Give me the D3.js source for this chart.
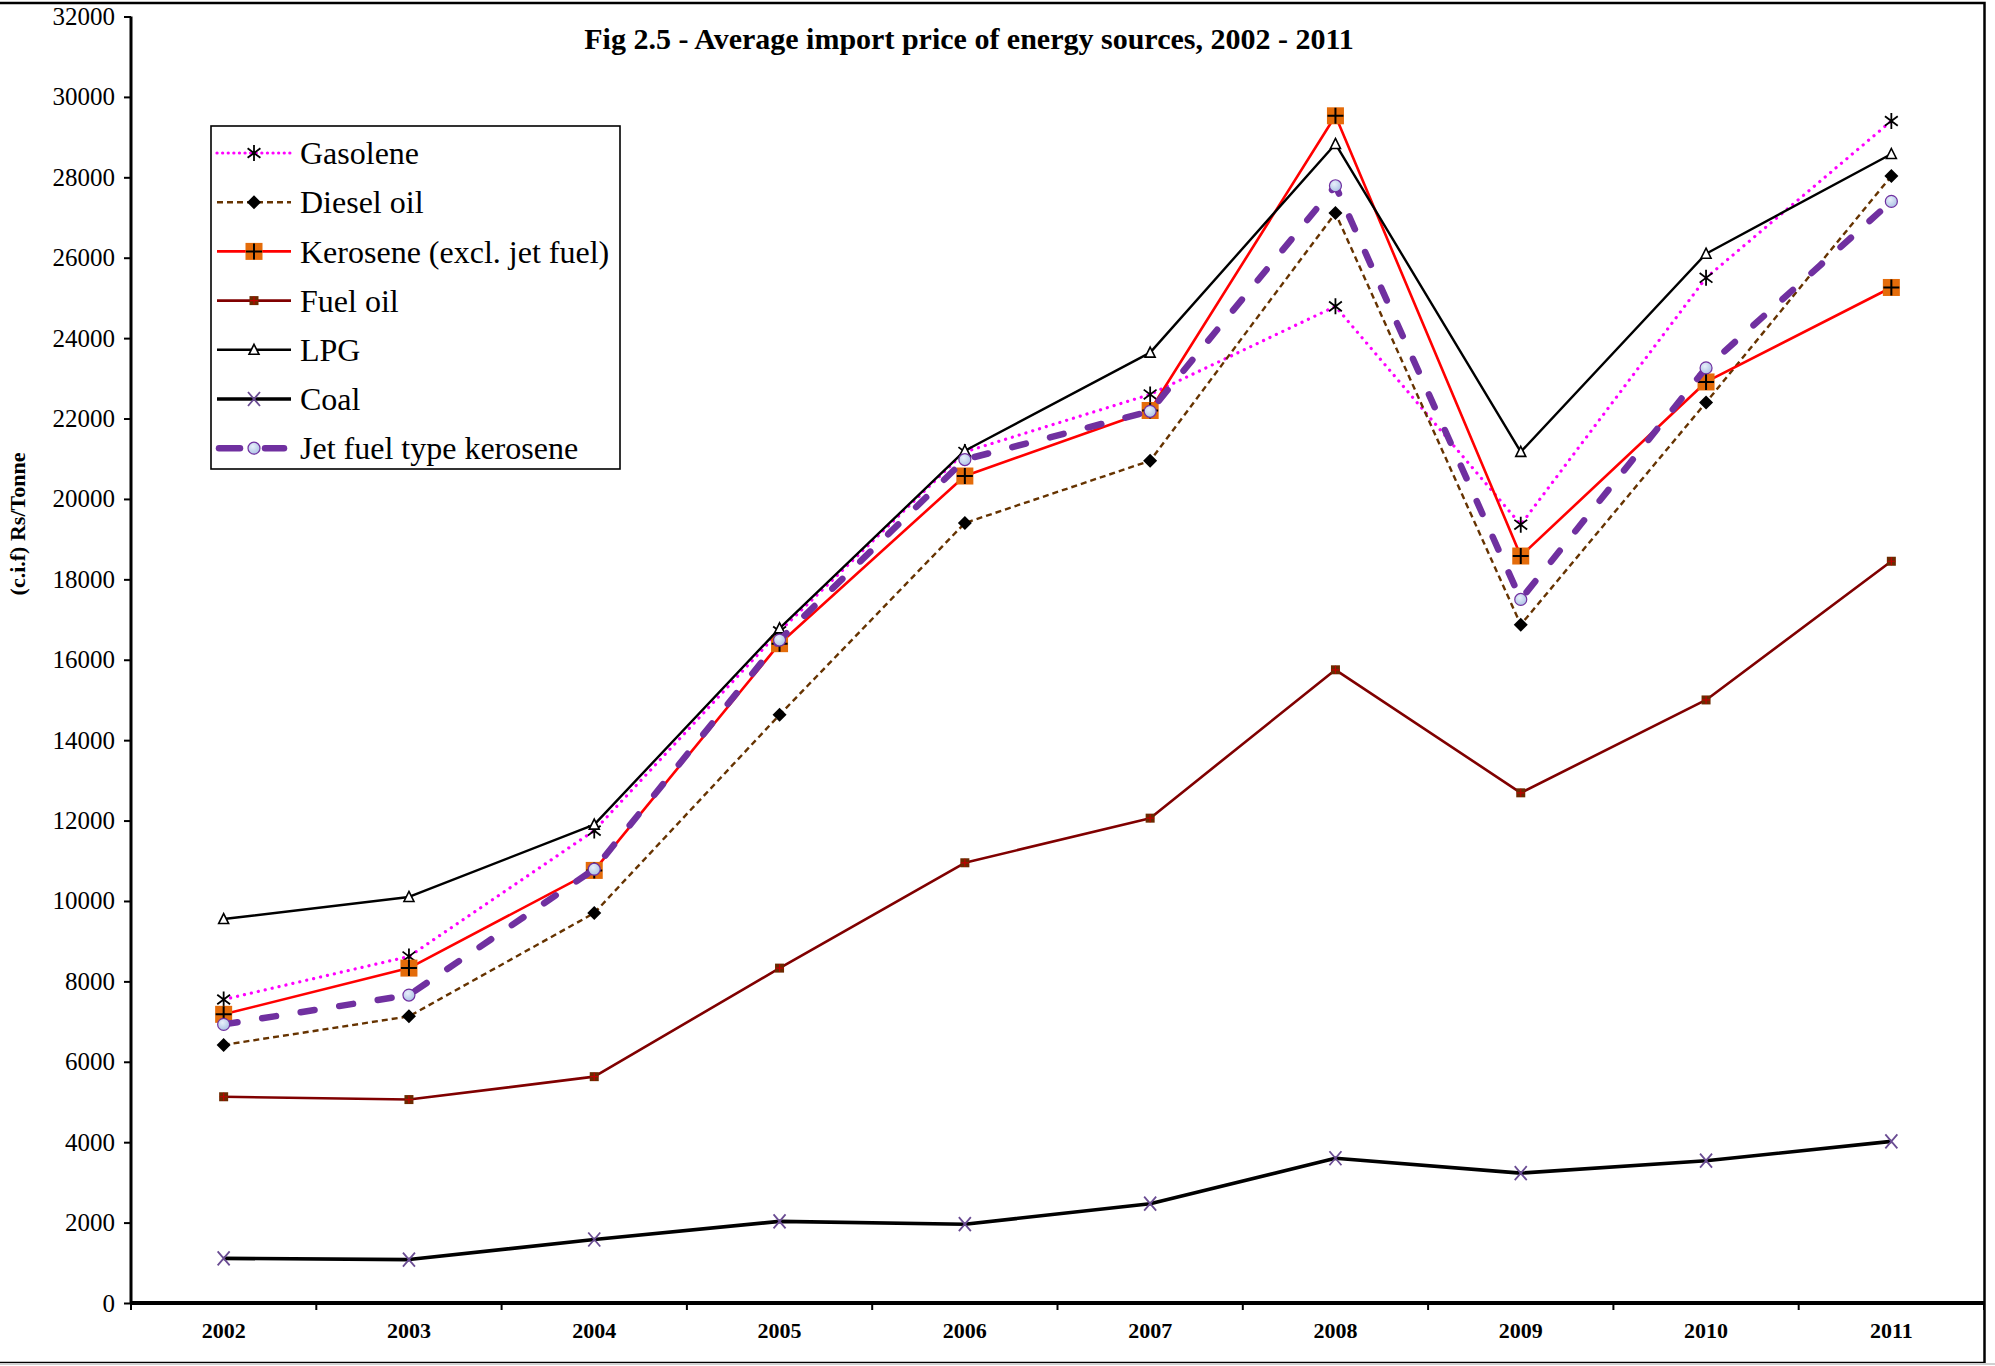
<!DOCTYPE html>
<html>
<head>
<meta charset="utf-8">
<script src="https://cdn.jsdelivr.net/npm/d3@7"></script>
<style>
  html, body { margin: 0; padding: 0; background: #fff; }
  svg { display: block; }
  text { font-family: "Liberation Serif", "Times New Roman", serif; }
</style>
</head>
<body>
<svg id="chart" width="1995" height="1366"></svg>
<script>
// ---- data ----
const years = ["2002","2003","2004","2005","2006","2007","2008","2009","2010","2011"];
const yTicks = [0,2000,4000,6000,8000,10000,12000,14000,16000,18000,20000,22000,24000,26000,28000,30000,32000];

const gasolene   = [7550, 8620, 11750, 16710, 21170, 22600, 24790, 19360, 25500, 29400];
const dieselOil  = [6420, 7130, 9700, 14630, 19400, 20950, 27110, 16870, 22400, 28030];
const kerosene   = [7180, 8330, 10760, 16400, 20570, 22200, 29530, 18580, 22910, 25260];
const fuelOil    = [5130, 5060, 5630, 8330, 10950, 12060, 15750, 12690, 15000, 18450];
const lpg        = [9550, 10100, 11900, 16780, 21200, 23640, 28830, 21170, 26100, 28580];
const coal       = [1110, 1080, 1580, 2030, 1960, 2470, 3600, 3230, 3540, 4020];
const jetFuel    = [6930, 7660, 10790, 16490, 20980, 22180, 27790, 17500, 23260, 27400];

const seriesNames = ["Gasolene","Diesel oil","Kerosene (excl. jet fuel)","Fuel oil","LPG","Coal","Jet fuel type kerosene"];
const seriesValues = [gasolene, dieselOil, kerosene, fuelOil, lpg, coal, jetFuel];

const titleText = "Fig 2.5 - Average import price of energy sources, 2002 - 2011";
const yLabel = "(c.i.f) Rs/Tonne";

// ---- styles ----
const styles = [
  {stroke:"#FF00FF", width:3.2, dash:"0.1 7", cap:"round", marker:"star"},
  {stroke:"#663300", width:2.4, dash:"6 4", cap:"butt", marker:"diamond"},
  {stroke:"#FF0000", width:2.6, dash:null, cap:"butt", marker:"kero"},
  {stroke:"#800000", width:2.6, dash:null, cap:"butt", marker:"fuel"},
  {stroke:"#000000", width:2.4, dash:null, cap:"butt", marker:"triangle"},
  {stroke:"#000000", width:3.6, dash:null, cap:"butt", marker:"x"},
  {stroke:"#7030A0", width:6.5, dash:"14 25", cap:"round", marker:"circle"}
];

(function(){
const svg = d3.select("#chart");
const W = 1995, H = 1366;
const pLeft = 131, pRight = 1984, pTop = 16.5, pBottom = 1303;

// outer border
svg.append("rect").attr("x", -2).attr("y", 3).attr("width", 1986.5).attr("height", 1360)
  .attr("fill", "none").attr("stroke", "#000").attr("stroke-width", 2.5);
svg.append("line").attr("x1", 0).attr("x2", W).attr("y1", 1364).attr("y2", 1364)
  .attr("stroke", "#d0d0d0").attr("stroke-width", 2);

const x = d3.scaleBand().domain(years).range([pLeft, pRight]).padding(0);
const y = d3.scaleLinear().domain([0, 32000]).range([pBottom, pTop]);

// y axis
const yAxis = d3.axisLeft(y).tickValues(yTicks).tickSize(7).tickPadding(9).tickFormat(d3.format("d"));
const gy = svg.append("g").attr("transform", `translate(${pLeft},0)`).call(yAxis);
gy.select(".domain").attr("stroke-width", 3).attr("d", `M0,${pTop}V${pBottom}`);
gy.selectAll(".tick line").attr("stroke-width", 2);
gy.selectAll("text").attr("font-size", 25).attr("font-family", "Liberation Serif").attr("fill", "#000");

// x axis
const gx = svg.append("g").attr("transform", `translate(0,${pBottom})`);
gx.append("line").attr("x1", pLeft).attr("x2", pRight).attr("y1", 0).attr("y2", 0)
  .attr("stroke", "#000").attr("stroke-width", 4);
const bounds = years.map(d => x(d)).concat([pRight]);
gx.selectAll("line.xt").data(bounds).enter().append("line").attr("class","xt")
  .attr("x1", d => d).attr("x2", d => d).attr("y1", 0).attr("y2", 7)
  .attr("stroke", "#000").attr("stroke-width", 2);
gx.selectAll("text").data(years).enter().append("text")
  .attr("x", d => x(d) + x.bandwidth()/2).attr("y", 35)
  .attr("text-anchor", "middle").attr("font-size", 22).attr("font-weight", "bold").text(d => d);

// title
svg.append("text").attr("x", 969).attr("y", 49).attr("text-anchor", "middle")
  .attr("font-size", 30).attr("font-weight", "bold").text(titleText);

// y label
svg.append("text").attr("transform", "translate(25,524) rotate(-90)").attr("text-anchor", "middle")
  .attr("font-size", 22).attr("font-weight", "bold").text(yLabel);

const defs = svg.append("defs");
const grad = defs.append("radialGradient").attr("id", "jetGrad").attr("cx", "40%").attr("cy", "35%").attr("r", "70%");
grad.append("stop").attr("offset", "0%").attr("stop-color", "#E8F0FA");
grad.append("stop").attr("offset", "100%").attr("stop-color", "#A9C0E4");

// markers
function drawMarker(g, type, cx, cy) {
  const m = g.append("g").attr("transform", `translate(${cx},${cy})`);
  if (type === "star") {
    const s = 8;
    m.append("path").attr("d", `M0,${-s}V${s}M${-s*0.8},${-s*0.6}L${s*0.8},${s*0.6}M${-s*0.8},${s*0.6}L${s*0.8},${-s*0.6}`)
      .attr("stroke", "#000").attr("stroke-width", 1.8).attr("fill", "none");
  } else if (type === "diamond") {
    m.append("path").attr("d", "M0,-7L7,0L0,7L-7,0Z").attr("fill", "#000");
  } else if (type === "kero") {
    m.append("rect").attr("x", -8.5).attr("y", -8.5).attr("width", 17).attr("height", 17).attr("fill", "#E46C0A");
    m.append("path").attr("d", "M0,-8V8M-8,0H8").attr("stroke", "#000").attr("stroke-width", 2);
  } else if (type === "fuel") {
    m.append("rect").attr("x", -4.5).attr("y", -4.5).attr("width", 9).attr("height", 9).attr("fill", "#6B2A00");
    m.append("path").attr("d", "M0,-4V4M-4,0H4").attr("stroke", "#C00000").attr("stroke-width", 1.2);
  } else if (type === "triangle") {
    m.append("path").attr("d", "M0,-5.5L5,4.5L-5,4.5Z").attr("fill", "#fff").attr("stroke", "#000").attr("stroke-width", 1.6);
  } else if (type === "x") {
    m.append("path").attr("d", "M-6,-7L6,7M-6,7L6,-7").attr("stroke", "#6A4C93").attr("stroke-width", 1.8);
  } else if (type === "circle") {
    m.append("circle").attr("r", 6).attr("fill", "url(#jetGrad)").attr("stroke", "#7030A0").attr("stroke-width", 1.2);
  }
}

// lines
const line = d3.line().x((d,i) => x(years[i]) + x.bandwidth()/2).y(d => y(d));
seriesValues.forEach((vals, k) => {
  const st = styles[k];
  const g = svg.append("g");
  const p = g.append("path").datum(vals).attr("d", line).attr("fill", "none")
    .attr("stroke", st.stroke).attr("stroke-width", st.width).attr("stroke-linecap", st.cap)
    .attr("stroke-linejoin", "round");
  if (st.dash) p.attr("stroke-dasharray", st.dash);
  vals.forEach((v, i) => drawMarker(g, st.marker, x(years[i]) + x.bandwidth()/2, y(v)));
});

// legend
const lg = svg.append("g");
lg.append("rect").attr("x", 211).attr("y", 126).attr("width", 409).attr("height", 343)
  .attr("fill", "#fff").attr("stroke", "#000").attr("stroke-width", 1.6);
seriesNames.forEach((name, k) => {
  const st = styles[k];
  const cy = 153 + k * 49.2;
  const row = lg.append("g");
  if (k === 6) {
    row.append("line").attr("x1", 219).attr("x2", 240).attr("y1", cy).attr("y2", cy)
      .attr("stroke", st.stroke).attr("stroke-width", st.width).attr("stroke-linecap", "round");
    row.append("line").attr("x1", 265).attr("x2", 284).attr("y1", cy).attr("y2", cy)
      .attr("stroke", st.stroke).attr("stroke-width", st.width).attr("stroke-linecap", "round");
  } else {
    const l = row.append("line").attr("x1", 217).attr("x2", 291).attr("y1", cy).attr("y2", cy)
      .attr("stroke", st.stroke).attr("stroke-width", st.width).attr("stroke-linecap", st.cap);
    if (k === 0) l.attr("stroke-dasharray", "0.1 5.5");
    else if (st.dash) l.attr("stroke-dasharray", st.dash);
  }
  drawMarker(row, st.marker, 254, cy);
  row.append("text").attr("x", 300).attr("y", cy).attr("dy", "0.35em")
    .attr("font-size", 32).text(name);
});
})();
</script>
</body>
</html>
